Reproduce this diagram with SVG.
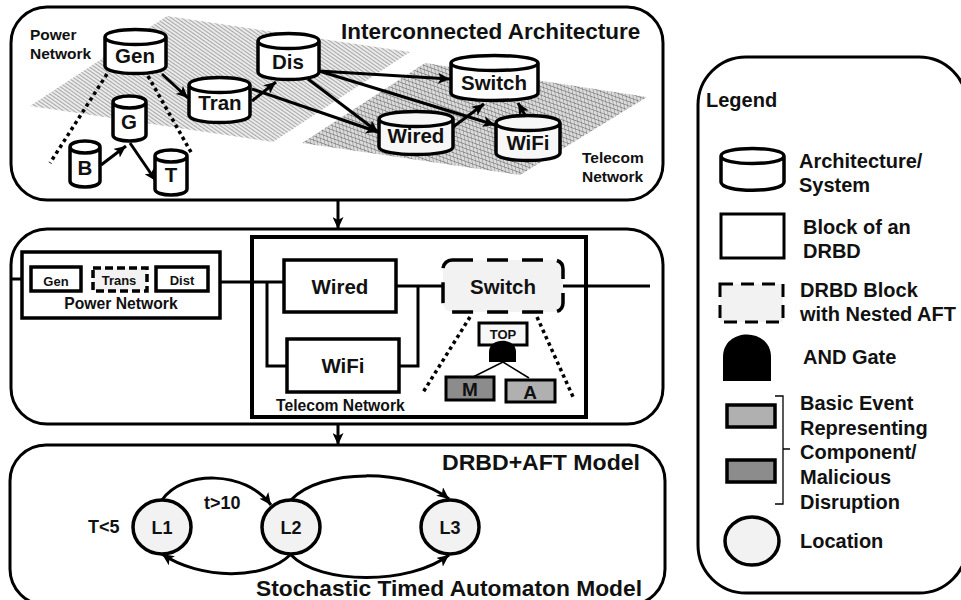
<svg xmlns="http://www.w3.org/2000/svg" width="961" height="600" viewBox="0 0 961 600">
<style>
text{font-family:"Liberation Sans",Arial,sans-serif;font-weight:700;fill:#111}
.panel{fill:#fff;stroke:#000;stroke-width:3}
.cyl{fill:#fff;stroke:#000;stroke-width:3.5;stroke-linejoin:round}
.cg{fill:#f7f7f7}
.box{fill:#fff;stroke:#000}
.dash{fill:#f2f2f2;stroke:#000;stroke-dasharray:14 9}
.wire{fill:none;stroke:#000;stroke-width:3}
.arr{fill:none;stroke:#000;stroke-width:3;marker-end:url(#ah)}
.dot{fill:none;stroke:#000;stroke-width:3.5;stroke-dasharray:3.5 3.5}
.m{text-anchor:middle}
.loc{fill:#f2f2f2;stroke:#000;stroke-width:3.5}
.l{font-size:20px}
</style>
<defs>
<marker id="ah" markerUnits="userSpaceOnUse" markerWidth="13" markerHeight="11" refX="12" refY="5.5" orient="auto"><path d="M0 0L12 5.5L0 11L3 5.5Z" fill="#000"/></marker>
<pattern id="hp" width="3" height="3" patternUnits="userSpaceOnUse" patternTransform="rotate(35)"><rect width="3" height="3" fill="#eaeaea"/><rect width="3" height="1" fill="#a8a8a8"/></pattern>
<pattern id="ht" width="4" height="4" patternUnits="userSpaceOnUse" patternTransform="rotate(20) skewX(30)"><rect width="4" height="4" fill="#dcdcdc"/><path d="M0 0H4M0 0V4" stroke="#6e6e6e" stroke-width="1"/></pattern>
</defs>

<g id="panel-architecture">
<rect class="panel" x="11" y="7" width="652" height="193" rx="36"/>
<polygon points="167,16 30,106 273,142 410,52" fill="url(#hp)"/>
<polygon points="425,63 647,97 520,175 302,143" fill="url(#ht)"/>
<text x="341" y="39" font-size="22.5">Interconnected Architecture</text>
<text x="30" y="40" font-size="15.5">Power</text>
<text x="30" y="59" font-size="15.5">Network</text>
<text x="582" y="163" font-size="15.5">Telecom</text>
<text x="582" y="182" font-size="15.5">Network</text>
</g>
<g id="panel-drbd"><rect class="panel" x="11" y="229" width="652" height="195" rx="36"/></g>
<g id="panel-sta"><rect class="panel" x="10" y="445" width="655" height="160" rx="36"/></g>

<g id="connectors">
<path class="arr" d="M162 74L188 98"/>
<path class="arr" d="M252 101L276 82"/>
<path class="arr" d="M252 89L378 132"/>
<path class="arr" d="M308 79L378 132"/>
<path class="arr" d="M319 71L450 79"/>
<path class="arr" d="M319 71L495 125"/>
<path class="arr" d="M453 127L484 104"/>
<path class="arr" d="M525 115L518 103"/>
<path class="arr" d="M101 165L126 146"/>
<path class="arr" d="M130 143L156 181"/>
<path class="dot" d="M107 74L50 163"/>
<path class="dot" d="M148 76L192 154"/>
<path class="arr" d="M338 200L338 229"/>
<path class="arr" d="M338 424L338 445"/>
<path class="wire" d="M11 279H31M81 279H92M147 279H156M208 282H284M267 282V366H287M396 286H443M418 286V366H399M563 286H650"/>
<path class="dot" d="M470 317L422 394"/>
<path class="dot" d="M537 317L574 399"/>
<path d="M503 362L473 377M503 362L529 378" fill="none" stroke="#000" stroke-width="1.5"/>
<path class="arr" d="M162 500C183 470 245 470 271 505"/>
<path class="arr" d="M291 500C320 468 410 468 449 499"/>
<path class="arr" d="M290 555C265 580 200 580 162 554"/>
<path class="arr" d="M291 555C320 585 410 585 449 555"/>
</g>

<g id="node-gen"><path class="cyl" d="M105 37V66C105 76 166 76 166 66V37C166 27 105 27 105 37C105 47 166 47 166 37"/><text class="m" x="135" y="63" font-size="20.5">Gen</text></g>
<g id="node-tran"><path class="cyl" d="M189 85V115C189 125 250 125 250 115V85C250 75 189 75 189 85C189 95 250 95 250 85"/><text class="m" x="220" y="110" font-size="20.5">Tran</text></g>
<g id="node-dis"><path class="cyl" d="M258 41V72C258 82 319 82 319 72V41C319 31 258 31 258 41C258 51 319 51 319 41"/><text class="m" x="288" y="69" font-size="20.5">Dis</text></g>
<g id="node-g"><path class="cyl" d="M113 102V135C113 143 146 143 146 135V102C146 94 113 94 113 102C113 110 146 110 146 102"/><text class="m" x="129" y="129" font-size="20.5">G</text></g>
<g id="node-b"><path class="cyl" d="M70 147V181C70 189 100 189 100 181V147C100 139 70 139 70 147C70 155 100 155 100 147"/><text class="m" x="85" y="175" font-size="20.5">B</text></g>
<g id="node-t"><path class="cyl" d="M155 156V189C155 197 187 197 187 189V156C187 148 155 148 155 156C155 164 187 164 187 156"/><text class="m" x="171" y="182" font-size="20.5">T</text></g>
<g id="node-switch-arch"><path class="cyl" d="M451 63V93C451 103 538 103 538 93V63C538 53 451 53 451 63C451 73 538 73 538 63"/><text class="m" x="494" y="90" font-size="20.5">Switch</text></g>
<g id="node-wired-arch"><path class="cyl cg" d="M379 119V147C379 157 453 157 453 147V119C453 109 379 109 379 119C379 129 453 129 453 119"/><text class="m" x="416" y="143" font-size="20.5">Wired</text></g>
<g id="node-wifi-arch"><path class="cyl cg" d="M496 123V153C496 163 560 163 560 153V123C560 113 496 113 496 123C496 133 560 133 560 123"/><text class="m" x="528" y="150" font-size="20.5">WiFi</text></g>

<g id="node-power-network"><rect class="box" x="22" y="252" width="198" height="66" stroke-width="3.5"/><text class="m" x="121" y="309" font-size="15.7">Power Network</text></g>
<g id="node-gen-block"><rect class="box" x="31" y="267" width="50" height="24" stroke-width="3.5"/><text class="m" x="56" y="286" font-size="13">Gen</text></g>
<g id="node-trans-block"><rect class="dash" x="93" y="268" width="54" height="23" stroke-width="3.5" style="stroke-dasharray:8 4"/><text class="m" x="119" y="285" font-size="13">Trans</text></g>
<g id="node-dist-block"><rect class="box" x="156" y="267" width="52" height="24" stroke-width="3.5"/><text class="m" x="182" y="285" font-size="13">Dist</text></g>
<g id="node-telecom-network"><rect x="252" y="237" width="334" height="180" fill="none" stroke="#000" stroke-width="4"/><text x="276" y="411" font-size="15.7">Telecom Network</text></g>
<g id="node-wired-block"><rect class="box" x="284" y="260" width="112" height="52" stroke-width="3.5"/><text class="m" x="340" y="294" font-size="20.5">Wired</text></g>
<g id="node-wifi-block"><rect class="box" x="287" y="339" width="112" height="53" stroke-width="3.5"/><text class="m" x="343" y="373" font-size="20.5">WiFi</text></g>
<g id="node-switch-block"><rect class="dash" x="443" y="260" width="120" height="52" rx="9" stroke-width="3.5" style="stroke-dasharray:21 14"/><text class="m" x="503" y="294" font-size="20.5">Switch</text></g>
<g id="node-top"><rect x="479" y="323" width="48" height="22" fill="#f7f7f7" stroke="#000" stroke-width="3"/><text class="m" x="503" y="339" font-size="13">TOP</text></g>
<g id="node-and"><path d="M489 362V352C489 337 516 337 516 352V362Z" fill="#000"/></g>
<g id="node-m"><rect x="446" y="377" width="48" height="23" fill="#8c8c8c" stroke="#000" stroke-width="3"/><text class="m" x="470" y="396" font-size="19">M</text></g>
<g id="node-a"><rect x="506" y="380" width="49" height="22" fill="#b0b0b0" stroke="#000" stroke-width="3"/><text class="m" x="530" y="399" font-size="19">A</text></g>

<g id="node-l1"><ellipse class="loc" cx="162" cy="527" rx="29" ry="27"/><text class="m" x="162" y="534" font-size="18">L1</text></g>
<g id="node-l2"><ellipse class="loc" cx="291" cy="527" rx="29" ry="27"/><text class="m" x="291" y="534" font-size="18">L2</text></g>
<g id="node-l3"><ellipse class="loc" cx="450" cy="527" rx="29" ry="27"/><text class="m" x="450" y="534" font-size="18">L3</text></g>
<text x="88" y="533" font-size="18">T&lt;5</text>
<text x="204" y="509" font-size="18">t&gt;10</text>
<text x="640" y="470" font-size="22" text-anchor="end" textLength="198" lengthAdjust="spacingAndGlyphs">DRBD+AFT Model</text>
<text x="642" y="596" font-size="22" text-anchor="end" textLength="386" lengthAdjust="spacingAndGlyphs">Stochastic Timed Automaton Model</text>

<g id="legend">
<rect class="panel" x="698" y="57" width="269" height="536" rx="48"/>
<text x="706" y="107" class="l">Legend</text>
<path class="cyl" d="M721 156V182C721 193 784 193 784 182V156C784 146 721 146 721 156C721 166 784 166 784 156"/>
<text x="799" y="168" class="l">Architecture/</text><text x="799" y="192" class="l">System</text>
<rect class="box" x="721" y="214" width="63" height="44" stroke-width="3"/>
<text x="803" y="234" class="l">Block of an</text><text x="803" y="258" class="l">DRBD</text>
<rect class="dash" x="720" y="284" width="63" height="38" stroke-width="3" style="stroke-dasharray:13 8"/>
<text x="800" y="297" class="l">DRBD Block</text><text x="800" y="321" class="l">with Nested AFT</text>
<path d="M723 381V357C723 327 771 327 771 357V381Z" fill="#000"/>
<text x="803" y="364" class="l">AND Gate</text>
<rect x="727" y="405" width="48" height="22" fill="#b0b0b0" stroke="#000" stroke-width="3.5"/>
<rect x="727" y="460" width="48" height="22" fill="#8c8c8c" stroke="#000" stroke-width="3.5"/>
<path d="M775 396H783V449H790M783 449V504H775" fill="none" stroke="#000" stroke-width="1.3"/>
<text x="800" y="410" class="l">Basic Event</text><text x="800" y="435" class="l">Representing</text><text x="800" y="459" class="l">Component/</text><text x="800" y="484" class="l">Malicious</text><text x="800" y="509" class="l">Disruption</text>
<ellipse class="loc" cx="752" cy="541" rx="27" ry="24"/>
<text x="800" y="548" class="l">Location</text>
</g>
</svg>
